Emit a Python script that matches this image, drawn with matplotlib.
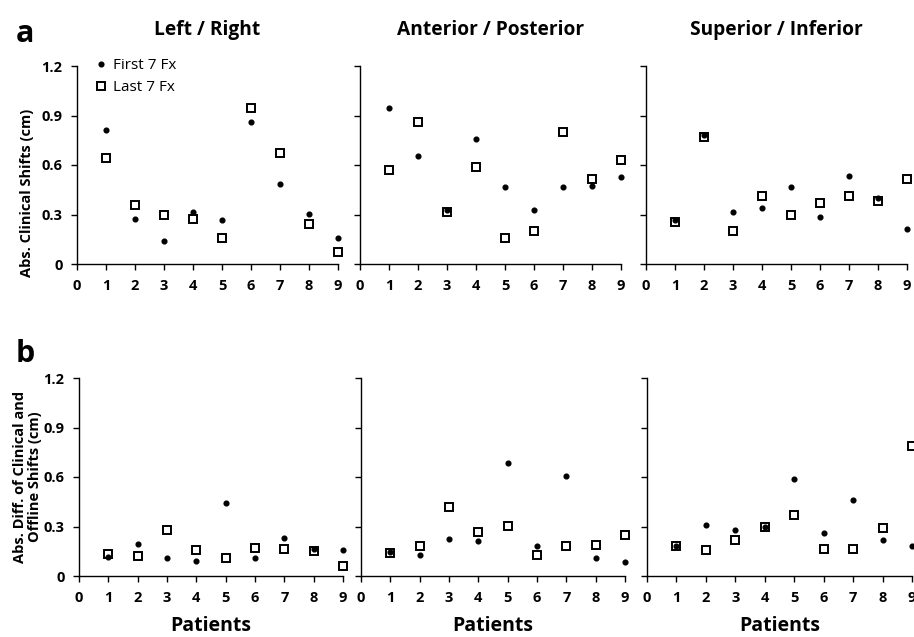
import matplotlib
matplotlib.use("Agg")
import matplotlib.pyplot as plt
import numpy as np

plt.rcParams['font.family'] = ['Open Sans', 'DejaVu Sans']

patients = [1, 2, 3, 4, 5, 6, 7, 8, 9]
titles = ["Left / Right", "Anterior / Posterior", "Superior / Inferior"]
xtick_labels = ["0", "1", "2", "3", "4", "5", "6", "7", "8", "9"]
ytick_labels = ["0", "0.3", "0.6", "0.9", "1.2"]

# Row a: absolute clinical shifts (cm)
a_lr_first = [0.814, 0.271, 0.141, 0.313, 0.267, 0.859, 0.483, 0.301, 0.158]
a_lr_last = [0.642, 0.358, 0.299, 0.271, 0.158, 0.943, 0.671, 0.242, 0.071]
a_ap_first = [0.943, 0.657, 0.325, 0.758, 0.467, 0.329, 0.467, 0.471, 0.527]
a_ap_last = [0.572, 0.859, 0.313, 0.586, 0.158, 0.200, 0.800, 0.515, 0.628]
a_si_first = [0.265, 0.780, 0.313, 0.341, 0.467, 0.285, 0.533, 0.400, 0.214]
a_si_last = [0.257, 0.772, 0.200, 0.414, 0.299, 0.370, 0.414, 0.384, 0.515]

# Row b: absolute difference of clinical and offline shifts (cm)
b_lr_first = [0.115, 0.193, 0.107, 0.091, 0.441, 0.107, 0.232, 0.161, 0.157]
b_lr_last = [0.133, 0.119, 0.276, 0.157, 0.111, 0.167, 0.165, 0.151, 0.060]
b_ap_first = [0.143, 0.129, 0.224, 0.211, 0.683, 0.179, 0.606, 0.111, 0.083]
b_ap_last = [0.139, 0.179, 0.421, 0.266, 0.302, 0.129, 0.179, 0.189, 0.250]
b_si_first = [0.181, 0.312, 0.278, 0.298, 0.590, 0.260, 0.463, 0.221, 0.181]
b_si_last = [0.179, 0.159, 0.219, 0.294, 0.368, 0.161, 0.161, 0.288, 0.789]

first_label = "First 7 Fx"
last_label = "Last 7 Fx"

W, H = 914, 637
fig = plt.figure(figsize=(W / 100, H / 100), dpi=100)

def px_axes(left, right, top, bottom):
    return fig.add_axes([left / W, 1 - bottom / H, (right - left) / W, (bottom - top) / H])

top_boxes = [(77, 338, 66, 264), (360, 621, 66, 264), (646, 907, 66, 264)]
bot_boxes = [(79, 343, 378, 576), (361, 625, 378, 576), (647, 912, 378, 576)]

top_data = [(a_lr_first, a_lr_last), (a_ap_first, a_ap_last), (a_si_first, a_si_last)]
bot_data = [(b_lr_first, b_lr_last), (b_ap_first, b_ap_last), (b_si_first, b_si_last)]

DOT = dict(marker='o', linestyle='none', color='black', markersize=3.4, clip_on=False, zorder=3)
SQ = dict(marker='s', linestyle='none', markerfacecolor='white', markeredgecolor='black',
          markersize=5.2, markeredgewidth=1.4, clip_on=False, zorder=2)

def style(ax, show_ylabels):
    ax.set_xlim(0, 9)
    ax.set_ylim(0, 1.2)
    ax.set_xticks(range(10))
    ax.set_xticklabels(xtick_labels, fontweight='bold', fontsize=10.5)
    ax.set_yticks([0, 0.3, 0.6, 0.9, 1.2])
    if show_ylabels:
        ax.set_yticklabels(ytick_labels, fontweight='bold', fontsize=10.5)
    else:
        ax.set_yticklabels([])
    for s in ['top', 'right']:
        ax.spines[s].set_visible(False)
    for s in ['left', 'bottom']:
        ax.spines[s].set_linewidth(1.0)
        ax.spines[s].set_color('black')
    ax.tick_params(axis='both', direction='out', length=4.5, width=1, colors='black', pad=6)

for i, (box, (f, l)) in enumerate(zip(top_boxes, top_data)):
    ax = px_axes(*box)
    ax.plot(patients, f, label=first_label, **DOT)
    ax.plot(patients, l, label=last_label, **SQ)
    style(ax, i == 0)
    ax.set_title(titles[i], fontweight='bold', fontsize=13.8, pad=22)
    if i == 0:
        ax.set_ylabel("Abs. Clinical Shifts (cm)", fontweight='bold', fontsize=10.5)
        ax.yaxis.set_label_coords(-0.165, 0.36)
        ax.legend(loc='upper left', bbox_to_anchor=(0.04, 1.07), frameon=False,
                  fontsize=11, handletextpad=0.3, labelspacing=0.45, handlelength=1.0,
                  borderaxespad=0)

for i, (box, (f, l)) in enumerate(zip(bot_boxes, bot_data)):
    ax = px_axes(*box)
    ax.plot(patients, f, **DOT)
    ax.plot(patients, l, **SQ)
    style(ax, i == 0)
    ax.set_xlabel("Patients", fontweight='bold', fontsize=14, labelpad=8)
    if i == 0:
        ax.set_ylabel("Abs. Diff. of Clinical and\nOffline Shifts (cm)", fontweight='bold',
                      fontsize=10.5, linespacing=1.05)
        ax.yaxis.set_label_coords(-0.14, 0.5)

fig.text(25 / W, 1 - 34 / H, "a", fontweight='bold', fontsize=22, ha='center', va='center')
fig.text(25 / W, 1 - 354 / H, "b", fontweight='bold', fontsize=22, ha='center', va='center')

fig.savefig("out.png", dpi=100)
